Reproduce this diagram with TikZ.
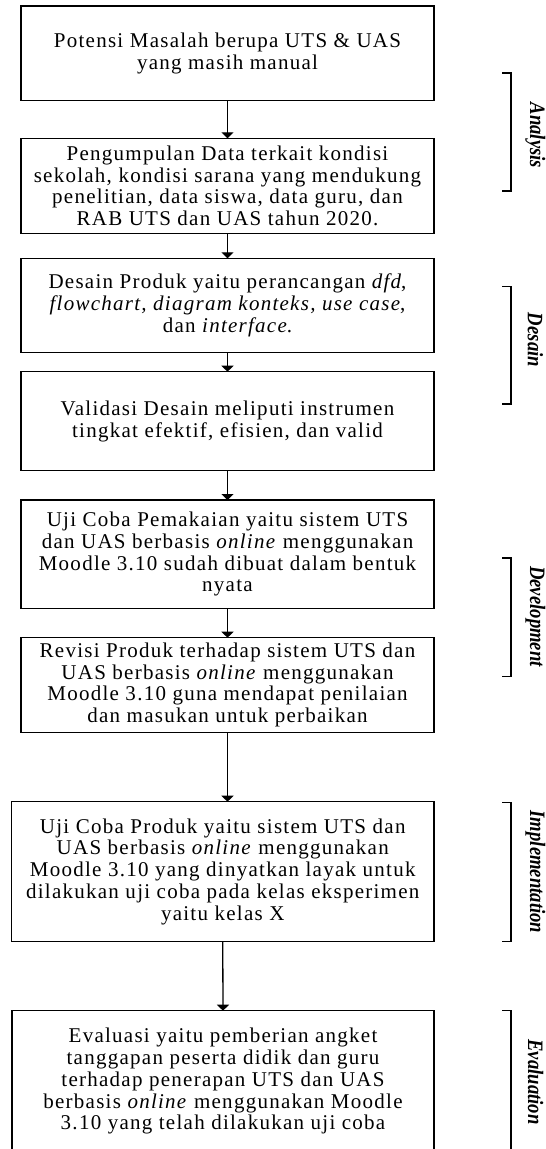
\documentclass[tikz,border=0pt]{standalone}
\usepackage{fontspec}
\setmainfont{Liberation Serif}[LetterSpace=6]
\newfontfamily\labelfont{Liberation Serif}
\usetikzlibrary{arrows.meta}
\tikzset{
  stepbox/.style={draw, line width=1.3pt, inner sep=0pt, outer sep=0pt, align=center,
    font=\fontsize{21}{21.8}\selectfont},
  arr/.style={line width=1.3pt, -{Triangle[length=6pt,width=12pt]}},
  brk/.style={line width=1.3pt},
  lab/.style={rotate=-90, inner sep=0pt, font=\labelfont\bfseries\itshape\fontsize{22}{22}\selectfont}
}
\newcommand{\narrowlab}[1]{\scalebox{0.85}[1]{#1}}
\begin{document}
\begin{tikzpicture}[x=1pt,y=-1pt]
\useasboundingbox (0,0) rectangle (546,1149);
\fill[white] (0,0) rectangle (546,1149);

\node[stepbox, minimum width=413pt, minimum height=94.7pt] (b1) at (227.5,53.4)
 {Potensi Masalah berupa UTS \& UAS\\ yang masih manual};
\node[stepbox, minimum width=413pt, minimum height=95pt] (b2) at (227.5,185.8)
 {Pengumpulan Data terkait kondisi\\ sekolah, kondisi sarana yang mendukung\\ penelitian, data siswa, data guru, dan\\ RAB UTS dan UAS tahun 2020.};
\node[stepbox, minimum width=413pt, minimum height=94.4pt] (b3) at (227.5,305.5)
 {Desain Produk yaitu perancangan \textit{dfd},\\ \textit{flowchart, diagram konteks, use case},\\ dan \textit{interface}.};
\node[stepbox, minimum width=413pt, minimum height=99pt] (b4) at (227.5,421.2)
 {Validasi Desain meliputi instrumen\\ tingkat efektif, efisien, dan valid};
\node[stepbox, minimum width=413pt, minimum height=108.3pt] (b5) at (227.5,554.2)
 {Uji Coba Pemakaian yaitu sistem UTS\\ dan UAS berbasis \textit{online} menggunakan\\ Moodle 3.10 sudah dibuat dalam bentuk\\ nyata};
\node[stepbox, minimum width=413pt, minimum height=94.6pt] (b6) at (227.5,685)
 {Revisi Produk terhadap sistem UTS dan\\ UAS berbasis \textit{online} menggunakan\\ Moodle 3.10 guna mendapat penilaian\\ dan masukan untuk perbaikan};
\node[stepbox, minimum width=422.5pt, minimum height=140pt] (b7) at (222.75,871.7)
 {Uji Coba Produk yaitu sistem UTS dan\\ UAS berbasis \textit{online} menggunakan\\ Moodle 3.10 yang dinyatkan layak untuk\\ dilakukan uji coba pada kelas eksperimen\\ yaitu kelas X};
\node[stepbox, minimum width=422pt, minimum height=141pt] (b8) at (223,1081.2)
 {Evaluasi yaitu pemberian angket\\ tanggapan peserta didik dan guru\\ terhadap penerapan UTS dan UAS\\ berbasis \textit{online} menggunakan Moodle\\ 3.10 yang telah dilakukan uji coba};

\draw[arr] (b1.south) -- (b2.north);
\draw[arr] (b2.south) -- (b3.north);
\draw[arr] (b3.south) -- (b4.north);
\draw[arr] (b4.south) -- (b5.north);
\draw[arr] (b5.south) -- (b6.north);
\draw[arr] (b6.south) -- (b6.south |- b7.north);
\draw[arr] (b7.south) -- (b8.north);

\draw[brk] (502,73) -- (511,73) -- (511,191) -- (502,191);
\draw[brk] (502,286.7) -- (511,286.7) -- (511,404) -- (502,404);
\draw[brk] (502,558) -- (511,558) -- (511,676.7) -- (502,676.7);
\draw[brk] (502,802.3) -- (511,802.3) -- (511,941.7) -- (502,941.7);
\draw[brk] (502,1010.7) -- (511,1010.7) -- (511,1152) -- (502,1152);

\node[lab] (la) at (535.5,135.5) {\narrowlab{Analysis}};
\node[lab] (ld) at (535.5,340) {\narrowlab{Desain}};
\node[lab] (lv) at (535.5,616.5) {\narrowlab{Development}};
\node[lab] (li) at (535.5,872) {\narrowlab{Implementation}};
\node[lab] (le) at (535.5,1082) {\narrowlab{Evaluation}};
\end{tikzpicture}
\end{document}
